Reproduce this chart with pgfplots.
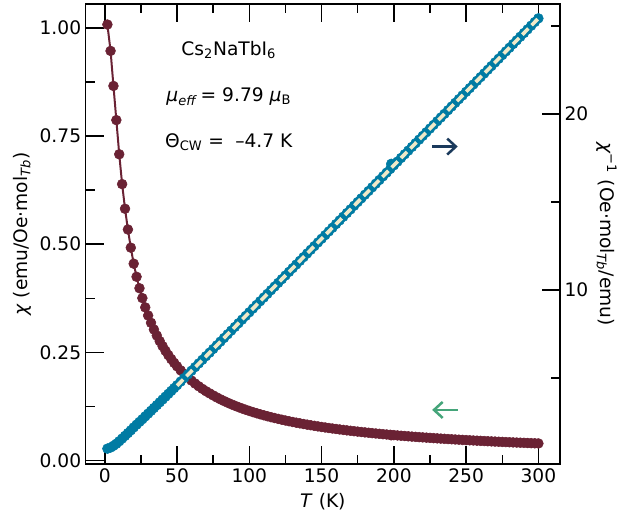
\documentclass[border=0pt]{standalone}
\usepackage{fontspec}
\setmainfont{DejaVu Sans}
\usepackage{pgfplots}
\usepackage{pgfplotstable}
\pgfplotsset{compat=1.18}
\usetikzlibrary{arrows.meta}
\definecolor{maroonc}{RGB}{106,34,52}
\definecolor{tealc}{RGB}{0,123,163}
\definecolor{creamc}{RGB}{240,233,200}
\definecolor{navyc}{RGB}{27,58,92}
\definecolor{greenc}{RGB}{69,165,122}

\pgfplotstableread{
T chi inv
1.8 1.008 0.992
4 0.947 1.056
6 0.866 1.155
8 0.787 1.271
10 0.708 1.412
12 0.639 1.565
14 0.582 1.718
16 0.534 1.873
18 0.492 2.033
20 0.455 2.198
22 0.4247 2.355
24 0.3982 2.511
26 0.3754 2.664
28 0.3539 2.826
30 0.3351 2.984
32 0.3182 3.143
34 0.3028 3.302
36 0.2888 3.462
38 0.2760 3.623
40 0.2643 3.784
42 0.2535 3.945
44 0.2435 4.107
46 0.2342 4.270
48 0.2256 4.433
50 0.2176 4.596
52.5 0.2083 4.801
55 0.1998 5.006
57.5 0.1919 5.212
60 0.1846 5.418
62.5 0.1778 5.624
65 0.1715 5.831
67.5 0.1656 6.038
70 0.1601 6.245
72.5 0.15518 6.4441
75 0.15031 6.6528
77.5 0.14574 6.8614
80 0.14144 7.0701
82.5 0.13739 7.2788
85 0.13356 7.4875
87.5 0.12993 7.6962
90 0.12650 7.9048
92.5 0.12325 8.1135
95 0.12016 8.3222
97.5 0.11722 8.5309
100 0.11442 8.7396
102.5 0.11175 8.9482
105 0.10921 9.1569
107.5 0.10677 9.3656
110 0.10445 9.5743
112.5 0.10222 9.7830
115 0.10008 9.9917
117.5 0.09804 10.2003
120 0.09607 10.4090
122.5 0.09418 10.6177
125 0.09237 10.8264
127.5 0.09062 11.0351
130 0.08894 11.2437
132.5 0.08732 11.4524
135 0.08576 11.6611
137.5 0.08425 11.8698
140 0.08279 12.0785
142.5 0.08139 12.2871
145 0.08003 12.4958
147.5 0.07871 12.7045
150 0.07744 12.9132
152.5 0.07621 13.1219
155 0.07502 13.3306
157.5 0.07386 13.5392
160 0.07274 13.7479
162.5 0.07165 13.9566
165 0.07060 14.1653
167.5 0.06957 14.3740
170 0.06857 14.5826
172.5 0.06761 14.7913
175 0.06667 15.0000
177.5 0.06575 15.2087
180 0.06486 15.4174
182.5 0.06400 15.6260
185 0.06315 15.8347
187.5 0.06233 16.0434
190 0.06153 16.2521
192.5 0.06075 16.4608
195 0.05999 16.6694
197.5 0.05925 16.8781
198.2 0.05824 17.1700
200 0.05852 17.0868
202.5 0.05782 17.2955
205 0.05713 17.5042
207.5 0.05646 17.7129
210 0.05580 17.9215
212.5 0.05516 18.1302
215 0.05453 18.3389
217.5 0.05392 18.5476
220 0.05332 18.7563
222.5 0.05273 18.9649
225 0.05215 19.1736
227.5 0.05159 19.3823
230 0.05104 19.5910
232.5 0.05051 19.7997
235 0.04998 20.0083
237.5 0.04946 20.2170
240 0.04896 20.4257
242.5 0.04846 20.6344
245 0.04798 20.8431
247.5 0.04750 21.0518
250 0.04704 21.2604
252.5 0.04658 21.4691
255 0.04613 21.6778
257.5 0.04569 21.8865
260 0.04526 22.0952
262.5 0.04484 22.3038
265 0.04442 22.5125
267.5 0.04401 22.7212
270 0.04361 22.9299
272.5 0.04322 23.1386
275 0.04283 23.3472
277.5 0.04245 23.5559
280 0.04208 23.7646
282.5 0.04171 23.9733
285 0.04135 24.1820
287.5 0.04100 24.3907
290 0.04065 24.5993
292.5 0.04031 24.8080
295 0.03997 25.0167
297.5 0.03964 25.2254
300 0.03932 25.4341
}\datatable

\pgfplotstableread{
T inv
50 4.566
300 25.434
}\fittable

\pgfplotsset{
  /pgf/number format/assume math mode=true,
  common/.style={
    width=356.25pt, height=345.75pt, scale only axis,
    xmin=-13.11, xmax=314.91,
    tick align=inside,
    major tick length=13.5pt, minor tick length=6.75pt,
    every tick/.style={black, line width=1.1pt},
    axis line style={line width=1pt},
    tick label style={font=\fontsize{14}{16}\selectfont},
    label style={font=\fontsize{14}{16}\selectfont},
  },
}

\begin{document}
\begin{tikzpicture}
\begin{axis}[common,
  ymin=-0.0085, ymax=1.0555,
  xtick={0,50,100,150,200,250,300}, minor x tick num=1,
  ytick={0,0.25,0.5,0.75,1}, minor y tick num=1,
  ytick pos=left,
  yticklabel style={/pgf/number format/.cd, fixed, fixed zerofill, precision=2},
  xlabel={\textit{T} (K)},
  ylabel={\textit{χ} (emu/Oe·mol\textsubscript{\textit{Tb}})},
  xlabel style={at={(axis description cs:0.5,-0.0824)}, anchor=center},
  ylabel style={at={(axis description cs:-0.1347,0.5)}, anchor=center, rotate=0},
]
\addplot[maroonc, line width=1.5pt, mark=*, mark size=3.7pt,
  mark options={solid, fill=maroonc, draw=maroonc, line width=0.4pt}]
  table[x=T, y=chi] {\datatable};
\draw[navyc, line width=1.9pt, -{Straight Barb[length=6.5pt, width=12pt]}]
  (axis cs:226.5,0.7258) -- (axis cs:244.2,0.7258);
\draw[greenc, line width=1.9pt, -{Straight Barb[length=6.5pt, width=12pt]}]
  (axis cs:244.2,0.1168) -- (axis cs:226.5,0.1168);
\node[anchor=base, font=\fontsize{14}{16}\selectfont] at (axis cs:85.8,0.937)
  {Cs\textsubscript{2}NaTbI\textsubscript{6}};
\node[anchor=base, font=\fontsize{14}{16}\selectfont] at (axis cs:85.8,0.8295)
  {\textit{μ}\textsubscript{\textit{eff}}\,= 9.79 \textit{μ}\textsubscript{B}};
\node[anchor=base, font=\fontsize{14}{16}\selectfont] at (axis cs:85.8,0.7235)
  {Θ\textsubscript{CW} =\hspace{0.6em}–4.7 K};
\end{axis}
\begin{axis}[common,
  axis y line*=right, axis x line=none,
  ymin=0.114, ymax=26.25,
  ytick={10,20}, minor ytick={5,15,25},
  ylabel={\textit{χ}\textsuperscript{−1} (Oe·mol\textsubscript{\textit{Tb}}/emu)},
  ylabel style={at={(axis description cs:1.098,0.5)}, anchor=center, rotate=180},
]
\addplot[tealc, line width=2pt, mark=*, mark size=3.7pt,
  mark options={solid, fill=tealc, draw=tealc, line width=0.4pt}]
  table[x=T, y=inv] {\datatable};
\end{axis}
\begin{axis}[common, hide axis,
  ymin=0.114, ymax=26.25,
]
\addplot[creamc, line width=2.7pt, dash pattern=on 6.5pt off 3.5pt]
  table[x=T, y=inv] {\fittable};
\end{axis}
\path (-64.5pt,-42pt) rectangle (401.25pt,348.75pt);
\end{tikzpicture}
\end{document}
